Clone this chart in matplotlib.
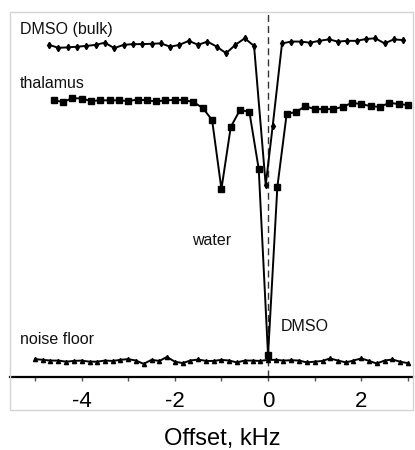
import matplotlib
matplotlib.use("Agg")
import matplotlib.pyplot as plt
from matplotlib.patches import Rectangle
from matplotlib.ticker import MultipleLocator

plt.rcParams['font.family'] = ['Liberation Sans', 'DejaVu Sans']
plt.rcParams['axes.unicode_minus'] = False

# offsets in kHz, signal normalised 0..1
bulk_x = [-4.7, -4.5, -4.3, -4.1, -3.9, -3.7, -3.5, -3.3, -3.1, -2.9, -2.7, -2.5,
          -2.3, -2.1, -1.9, -1.7, -1.5, -1.3, -1.1, -0.9, -0.7, -0.5, -0.3,
          -0.05, 0.1,
          0.3, 0.5, 0.7, 0.9, 1.1, 1.3, 1.5, 1.7, 1.9, 2.1, 2.3, 2.5, 2.7, 2.9]
bulk_y = [0.910, 0.902, 0.903, 0.905, 0.907, 0.910, 0.916, 0.901, 0.910, 0.912,
          0.912, 0.913, 0.914, 0.905, 0.910, 0.921, 0.910, 0.919, 0.905, 0.887,
          0.910, 0.928, 0.907,
          0.526, 0.688,
          0.914, 0.919, 0.919, 0.916, 0.921, 0.925, 0.919, 0.921, 0.921, 0.926,
          0.928, 0.914, 0.925, 0.923]

thal_x = [-4.6, -4.4, -4.2, -4.0, -3.8, -3.6, -3.4, -3.2, -3.0, -2.8, -2.6, -2.4,
          -2.2, -2.0, -1.8, -1.6, -1.4, -1.2, -1.0, -0.8, -0.6, -0.4, -0.2, 0.0,
          0.2, 0.4, 0.6, 0.8, 1.0, 1.2, 1.4, 1.6, 1.8, 2.0, 2.2, 2.4, 2.6, 2.8, 3.0]
thal_y = [0.759, 0.753, 0.764, 0.763, 0.756, 0.758, 0.758, 0.758, 0.756, 0.760,
          0.758, 0.755, 0.758, 0.759, 0.759, 0.753, 0.737, 0.704, 0.515, 0.685,
          0.732, 0.726, 0.570, 0.060, 0.521, 0.721, 0.726, 0.742, 0.734, 0.734,
          0.734, 0.740, 0.751, 0.748, 0.742, 0.740, 0.751, 0.748, 0.745]

noise_x = [-5.0, -4.83, -4.67, -4.5, -4.33, -4.17, -4.0, -3.83, -3.67, -3.5, -3.33,
           -3.17, -3.0, -2.83, -2.67, -2.5, -2.33, -2.17, -2.0, -1.83, -1.67, -1.5,
           -1.33, -1.17, -1.0, -0.83, -0.67, -0.5, -0.33, -0.17, 0.0, 0.17, 0.33,
           0.5, 0.67, 0.83, 1.0, 1.17, 1.33, 1.5, 1.67, 1.83, 2.0, 2.17, 2.33, 2.5,
           2.67, 2.83, 3.0]
noise_y = [0.049, 0.047, 0.045, 0.045, 0.042, 0.044, 0.045, 0.042, 0.042, 0.045,
           0.044, 0.047, 0.049, 0.045, 0.036, 0.047, 0.044, 0.055, 0.042, 0.038,
           0.045, 0.048, 0.044, 0.044, 0.047, 0.045, 0.040, 0.045, 0.045, 0.044,
           0.047, 0.047, 0.045, 0.046, 0.045, 0.040, 0.042, 0.044, 0.051, 0.045,
           0.040, 0.045, 0.051, 0.044, 0.037, 0.045, 0.048, 0.042, 0.038]

major_ticks = [-4, -2, 0, 2]

W, H = 415, 450
fig = plt.figure(figsize=(W / 100, H / 100), dpi=100)
ax = fig.add_axes([10 / W, (H - 377) / H, 403 / W, 365 / H])

# light grey frame around plot + tick labels
fig.patches.append(Rectangle((10 / W, (H - 410) / H), 403 / W, 398 / H,
                             transform=fig.transFigure, fill=False,
                             edgecolor='#d4d4d4', lw=1))

ax.axvline(0, color='#333333', lw=1, ls=(0, (5, 3)), zorder=1)

ax.plot(bulk_x, bulk_y, color='k', lw=1.4, marker='d', ms=3.2, zorder=3)
ax.plot(thal_x, thal_y, color='k', lw=1.4, marker='s', ms=4, zorder=3)
ax.plot(noise_x, noise_y, color='k', lw=1.4, marker='^', ms=3, zorder=3)

ax.set_xlim(-5.536, 3.11)
ax.set_ylim(0, 1)

for s in ['top', 'right', 'left']:
    ax.spines[s].set_visible(False)
ax.spines['bottom'].set_linewidth(1.6)
ax.set_yticks([])
ax.set_xticks(major_ticks)
ax.set_xticklabels([str(t) for t in major_ticks])
ax.xaxis.set_minor_locator(MultipleLocator(1))
ax.tick_params(axis='x', which='both', direction='out', length=3, width=1,
               color='#555555', labelsize=16, pad=7)

txt = dict(fontsize=11.5, color='#111111')
ax.text(0.025, 0.951, 'DMSO (bulk)', transform=ax.transAxes, va='center', **txt)
ax.text(0.025, 0.805, 'thalamus', transform=ax.transAxes, va='center', **txt)
ax.text(-1.22, 0.375, 'water', ha='center', va='center', **txt)
ax.text(0.79, 0.137, 'DMSO', ha='center', va='center', **txt)
ax.text(0.025, 0.104, 'noise floor', transform=ax.transAxes, va='center', **txt)

fig.text(222 / W, 1 - 439 / H, 'Offset, kHz', ha='center', va='center', fontsize=17)

fig.savefig('out.png', dpi=100)
